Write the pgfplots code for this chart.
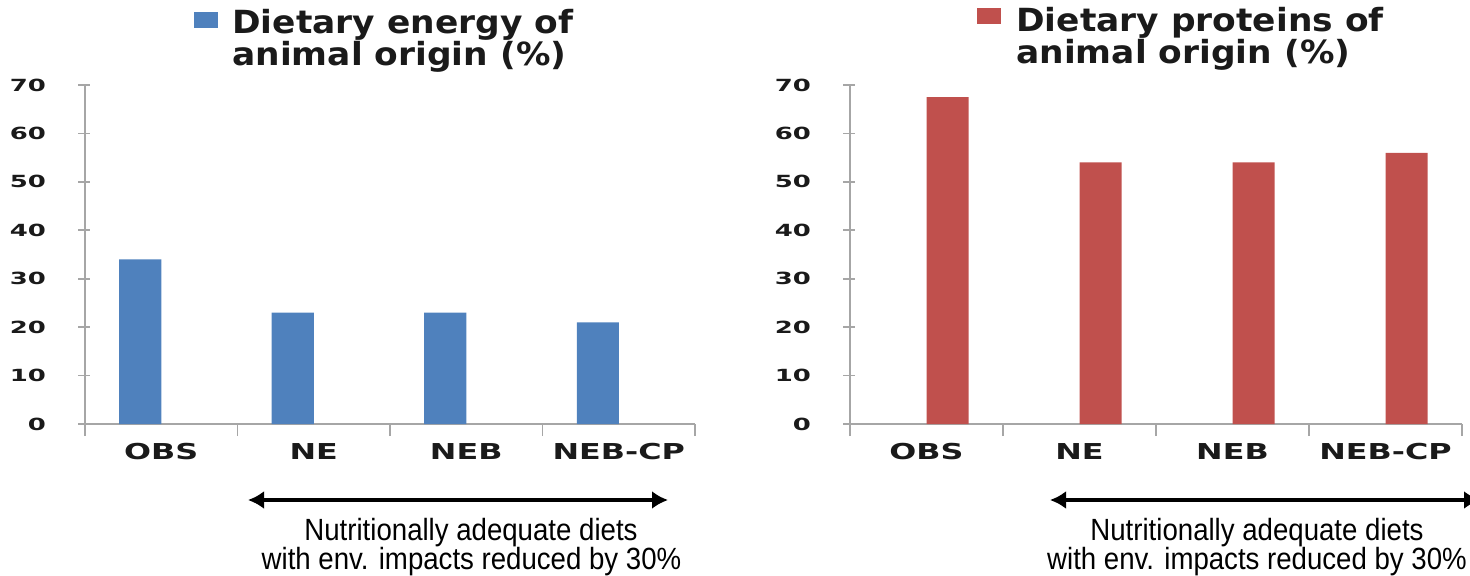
\documentclass[border=0pt]{standalone}
\usepackage{fontspec}
\setmainfont{Liberation Sans}
\newfontfamily\titlefont{DejaVu Sans}[FakeStretch=1.08]
\newfontfamily\catfont{DejaVu Sans}[FakeStretch=1.45]
\newfontfamily\numfont{DejaVu Sans}[FakeStretch=1.55]
\newfontfamily\notefont{Liberation Sans}[FakeStretch=0.9]
\usepackage{pgfplots}
\pgfplotsset{compat=1.18}
\usetikzlibrary{arrows.meta}

\definecolor{barblue}{HTML}{4F81BD}
\definecolor{barred}{HTML}{C0504D}
\definecolor{axisgray}{HTML}{A6A6A6}
\definecolor{txt}{HTML}{1A1A1A}

\pgfplotsset{
  panel/.style={
    scale only axis, height=169.5bp,
    ymin=0, ymax=70, ytick={0,10,...,70},
    xmin=-0.5, xmax=3.5,
    axis x line*=bottom, axis y line*=left,
    axis line style={axisgray, line width=0.9bp},
    tick style={axisgray, line width=0.9bp},
    tick align=outside, major tick length=6bp,
    ytick style={xshift=2.5bp},
    xtick={-0.5,0.5,1.5,2.5,3.5}, xticklabels={,,,,},
    extra x ticks={0,1,2,3},
    extra x tick labels={OBS,NE,NEB,NEB-CP},
    extra x tick style={major tick length=0pt},
    /pgf/number format/assume math mode=true,
    yticklabel style={font=\numfont\bfseries\fontsize{8.4}{9}\selectfont, text=txt, xshift=-10bp},
    xticklabel style={font=\catfont\bfseries\fontsize{11}{12}\selectfont, text=txt, yshift=-6bp},
    ybar, bar width=21bp,
  }
}

\begin{document}
\begin{tikzpicture}
\useasboundingbox (0,0) rectangle (735bp,-288bp);

% left panel: energy
\begin{axis}[panel, width=305bp, at={(42.5bp,-212bp)}, anchor=south west]
\addplot[fill=barblue, draw=none, bar shift=-10.5bp] coordinates {(0,34) (1,23) (2,23) (3,21)};
\end{axis}

% right panel: proteins
\begin{axis}[panel, width=306bp, at={(425bp,-212bp)}, anchor=south west]
\addplot[fill=barred, draw=none, bar shift=10.5bp] coordinates {(0,67.5) (1,54) (2,54) (3,56)};
\end{axis}

% legend-style titles
\tikzset{ttl/.style={anchor=base west, inner sep=0, text=txt, font=\titlefont\bfseries\fontsize{16}{19}\selectfont}}
\fill[barblue] (97bp,-6bp) rectangle (109bp,-14bp);
\node[ttl] at (116bp,-16.5bp) {Dietary energy of};
\node[ttl] at (116bp,-32.5bp) {animal origin (\%)};

\fill[barred] (488.5bp,-4bp) rectangle (500.5bp,-12bp);
\node[ttl] at (508bp,-15.5bp) {Dietary proteins of};
\node[ttl] at (508bp,-31.5bp) {animal origin (\%)};

% arrows and notes
\draw[line width=2bp, {Latex[length=8bp,width=9bp]}-{Latex[length=8bp,width=9bp]}] (124bp,-250bp) -- (334bp,-250bp);
\draw[line width=2bp, {Latex[length=8bp,width=9bp]}-{Latex[length=8bp,width=9bp]}] (525bp,-250bp) -- (740bp,-250bp);

\tikzset{note/.style={anchor=base, inner sep=0, font=\notefont\fontsize{15.4}{18}\selectfont}}
\node[note] at (235.5bp,-270bp) {Nutritionally adequate diets};
\node[note] at (235.75bp,-284.5bp) {with env. impacts reduced by 30\%};
\node[note] at (628.5bp,-270bp) {Nutritionally adequate diets};
\node[note] at (628.5bp,-284.5bp) {with env. impacts reduced by 30\%};
\end{tikzpicture}
\end{document}
